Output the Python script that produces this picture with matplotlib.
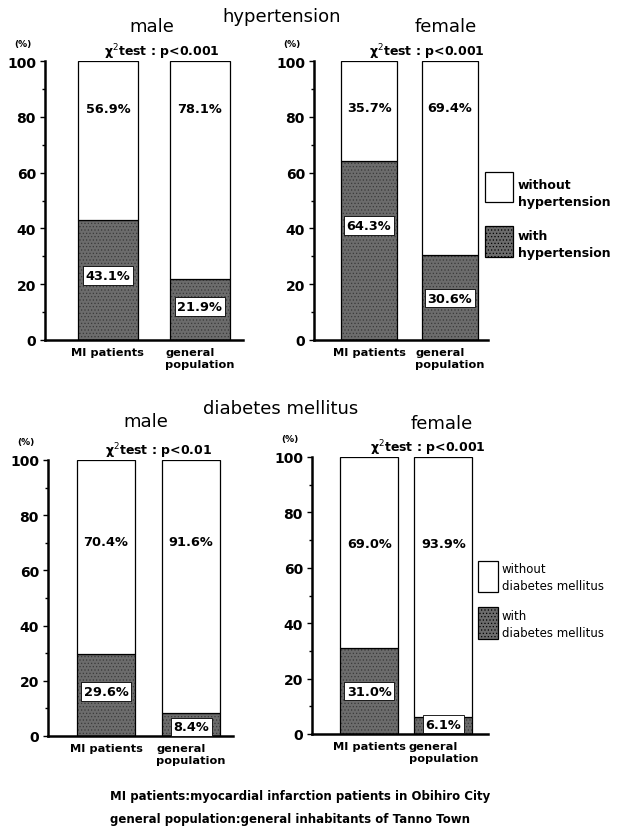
import matplotlib.pyplot as plt
from matplotlib.patches import Rectangle

plt.rcParams['font.family'] = ['DejaVu Sans']
plt.rcParams['hatch.linewidth'] = 0.5
plt.rcParams['hatch.color'] = '#3a3a3a'

# -------------------------------
# data
# -------------------------------
groups = ['MI patients', 'general\npopulation']

ht_male_with = [43.1, 21.9]
ht_male_without = [56.9, 78.1]
ht_female_with = [64.3, 30.6]
ht_female_without = [35.7, 69.4]

dm_male_with = [29.6, 8.4]
dm_male_without = [70.4, 91.6]
dm_female_with = [31.0, 6.1]
dm_female_without = [69.0, 93.9]

ht_tests = ['p<0.001', 'p<0.001']
dm_tests = ['p<0.01', 'p<0.001']

DARK = '#6c6c6c'
W, H = 618, 828


def fx(px):
    return px / W


def fy(py):
    return 1 - py / H


def px_axes(fig, left, right, top, bottom):
    return fig.add_axes([fx(left), fy(bottom), (right - left) / W, (bottom - top) / H])


def panel(ax, with_vals, without_vals, width, xlim, top_lab_y, bot_lab_y, test, test_x):
    x = list(range(len(groups)))
    # stippled dark part (hatch drawn in hatch.color), then outlines
    ax.bar(x, with_vals, width, color=DARK, hatch='.....', lw=0)
    ax.bar(x, with_vals, width, fill=False, edgecolor='black', lw=0.9)
    ax.bar(x, without_vals, width, bottom=with_vals, color='white', edgecolor='black', lw=0.9)
    for i in x:
        ax.text(i, top_lab_y[i], f'{without_vals[i]:.1f}%', ha='center', va='center',
                fontsize=9.3, fontweight='bold')
        ax.text(i, bot_lab_y[i], f'{with_vals[i]:.1f}%', ha='center', va='center',
                fontsize=9.3, fontweight='bold',
                bbox=dict(facecolor='white', edgecolor='black', lw=0.6, pad=2))
    ax.set_xlim(*xlim)
    ax.set_ylim(0, 100)
    ax.set_yticks([0, 20, 40, 60, 80, 100])
    ax.set_yticks([10, 30, 50, 70, 90], minor=True)
    ax.tick_params(axis='y', which='major', length=3.5, width=1, labelsize=10, pad=3)
    ax.tick_params(axis='y', which='minor', length=2, width=1)
    for t in ax.get_yticklabels():
        t.set_fontweight('bold')
    ax.set_xticks(x)
    ax.set_xticklabels(groups, fontsize=8.2, fontweight='bold', multialignment='left')
    ax.tick_params(axis='x', length=0, pad=5)
    ax.spines['top'].set_visible(False)
    ax.spines['right'].set_visible(False)
    ax.spines['left'].set_linewidth(1.8)
    ax.spines['bottom'].set_linewidth(1.8)
    ax.annotate('(%)', xy=(0, 1), xycoords='axes fraction', xytext=(-22, 18),
                textcoords='offset pixels', fontsize=6.5, fontweight='bold',
                ha='center', va='center')
    ax.text(test_x, 1.035, r'χ$^{2}$test : ' + test, transform=ax.transAxes,
            fontsize=9, fontweight='bold', ha='center', va='center')


fig = plt.figure(figsize=(6.18, 8.28), dpi=100)

# hypertension
ax1 = px_axes(fig, 45, 243, 62, 341)
panel(ax1, ht_male_with, ht_male_without, 0.65, (-0.685, 1.47),
      [83, 83], [23, 12], ht_tests[0], 0.59)
ax2 = px_axes(fig, 314, 488, 62, 341)
panel(ax2, ht_female_with, ht_female_without, 0.70, (-0.68, 1.47),
      [83.5, 83.5], [41, 15], ht_tests[1], 0.65)

# diabetes mellitus
ax3 = px_axes(fig, 48, 233, 461, 737)
panel(ax3, dm_male_with, dm_male_without, 0.68, (-0.68, 1.49),
      [70.6, 70.6], [16, 3.3], dm_tests[0], 0.60)
ax4 = px_axes(fig, 312, 488, 458, 735)
panel(ax4, dm_female_with, dm_female_without, 0.78, (-0.77, 1.6),
      [68.6, 68.6], [15.5, 3.6], dm_tests[1], 0.66)

# titles
fig.text(fx(282), fy(17), 'hypertension', ha='center', va='center', fontsize=13)
fig.text(fx(152), fy(27), 'male', ha='center', va='center', fontsize=13)
fig.text(fx(446), fy(27), 'female', ha='center', va='center', fontsize=13)
fig.text(fx(281), fy(409), 'diabetes mellitus', ha='center', va='center', fontsize=13)
fig.text(fx(146), fy(422), 'male', ha='center', va='center', fontsize=13)
fig.text(fx(442), fy(424), 'female', ha='center', va='center', fontsize=13)


# legends
def key(x0, y0, x1, y1, dark):
    r = Rectangle((fx(x0), fy(y1)), fx(x1) - fx(x0), fy(y0) - fy(y1),
                  transform=fig.transFigure, facecolor=DARK if dark else 'white',
                  edgecolor='black', lw=0.9, hatch='.....' if dark else None)
    fig.add_artist(r)


key(485, 173, 513, 203, False)
key(485, 227, 513, 258, True)
fig.text(fx(518), fy(194), 'without\nhypertension', ha='left', va='center',
         fontsize=9, fontweight='bold', linespacing=1.4)
fig.text(fx(518), fy(245), 'with\nhypertension', ha='left', va='center',
         fontsize=9, fontweight='bold', linespacing=1.4)

key(478, 562, 498, 593, False)
key(478, 608, 498, 640, True)
fig.text(fx(502), fy(578), 'without\ndiabetes mellitus', ha='left', va='center',
         fontsize=8.5, linespacing=1.45)
fig.text(fx(502), fy(625), 'with\ndiabetes mellitus', ha='left', va='center',
         fontsize=8.5, linespacing=1.45)

# footer
fig.text(fx(110), fy(797), 'MI patients:myocardial infarction patients in Obihiro City',
         ha='left', va='center', fontsize=8.5, fontweight='bold')
fig.text(fx(110), fy(820), 'general population:general inhabitants of Tanno Town',
         ha='left', va='center', fontsize=8.5, fontweight='bold')

fig.savefig('out.png', dpi=100, facecolor='white')
